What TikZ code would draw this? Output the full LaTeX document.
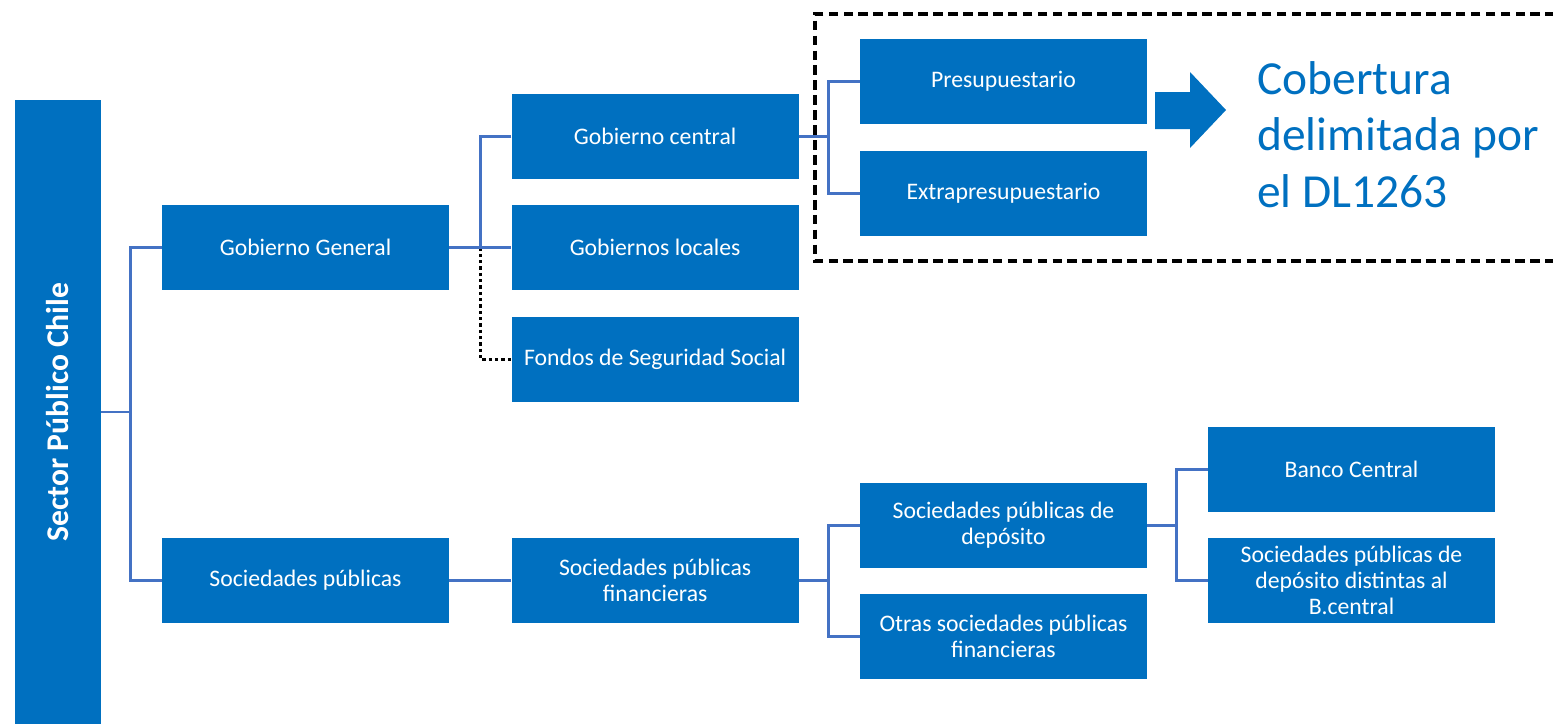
\documentclass[tikz,border=0pt]{standalone}
\usepackage{fontspec}
\setmainfont{Carlito}
\usepackage{xcolor}
\usetikzlibrary{positioning}
\definecolor{boxblue}{HTML}{0070C0}
\definecolor{linkblue}{HTML}{4472C4}

\begin{document}
\begin{tikzpicture}
        [x = 0.02cm, y = -0.02cm,
        box/.style = {rectangle, fill = boxblue, text = white, align = center,
            minimum width = 5.74cm, minimum height = 1.7cm, inner sep = 2pt,
            font = {\fontsize{13.5}{14.8}\selectfont}},
        link/.style = {draw = linkblue, line width = 1.6pt},
        dotlink/.style = {draw = black, line width = 1.6pt, dash pattern = on 1.8pt off 1.8pt}]
        \useasboundingbox (0,0) rectangle (1553,724);
        % left column
        \node (sec) [box, rotate = 90, minimum width = 12.48cm, minimum height = 1.72cm,
            font = {\fontsize{18}{20}\selectfont\bfseries}] at (58,412) {Sector Público Chile};
        \node (gg) [box] at (305.5,247.5) {Gobierno General};
        \node (sp) [box] at (305.5,580.5) {Sociedades públicas};
        % second column
        \node (gl) [box, right = 1.24cm of gg] {Gobiernos locales};
        \node (gc) [box, above = 0.5cm of gl] {Gobierno central};
        \node (fss) [box, below = 0.52cm of gl] {Fondos de Seguridad Social};
        \node (spf) [box, right = 1.24cm of sp] {Sociedades públicas\\financieras};
        % third column
        \node (pre) [box] at (1003.5,81.5) {Presupuestario};
        \node (ext) [box, below = 0.52cm of pre] {Extrapresupuestario};
        \node (spd) [box] at (1003.5,525.5) {Sociedades públicas de\\depósito};
        \node (osp) [box, below = 0.5cm of spd] {Otras sociedades públicas\\financieras};
        % fourth column
        \node (bc) [box] at (1351.5,469.5) {Banco Central};
        \node (spdd) [box, below = 0.5cm of bc] {Sociedades públicas de\\depósito distintas al\\B.central};
        % coverage
        \draw[line width = 2.2pt, dash pattern = on 5.5pt off 3pt] (1570,14) -- (815,14) -- (815,261) -- (1570,261);
        \fill[boxblue] (1155,92) -- (1190,92) -- (1190,72) -- (1226,110) -- (1190,148) -- (1190,129) -- (1155,129) -- cycle;
        \node (cob) [anchor = north west, align = left, inner sep = 0pt, text = boxblue,
            font = {\fontsize{27}{32.2}\selectfont}] at (1257,61) {Cobertura\\delimitada por\\el DL1263};
        % connectors
        \draw[link] (gg.west) -- ++(-31,0) coordinate (j1) |- (sp.west);
        \draw[link] (sec.south) -- (sec.south -| j1);
        \draw[dotlink] (gc.west) ++(-31,0) coordinate (j2);
        \draw[dotlink] (j2 |- gg.east) |- (fss.west);
        \draw[link] (gc.west) -- (j2) |- (gl.west);
        \draw[link] (gg.east) -- (gl.west);
        \draw[link] (pre.west) -- ++(-31,0) coordinate (j3) |- (ext.west);
        \draw[link] (gc.east) -- (gc.east -| j3);
        \draw[link] (sp.east) -- (spf.west);
        \draw[link] (spd.west) -- ++(-31,0) coordinate (j4) |- (osp.west);
        \draw[link] (spf.east) -- (spf.east -| j4);
        \draw[link] (bc.west) -- ++(-31,0) coordinate (j5) |- (spdd.west);
        \draw[link] (spd.east) -- (spd.east -| j5);
    \end{tikzpicture}
\end{document}
